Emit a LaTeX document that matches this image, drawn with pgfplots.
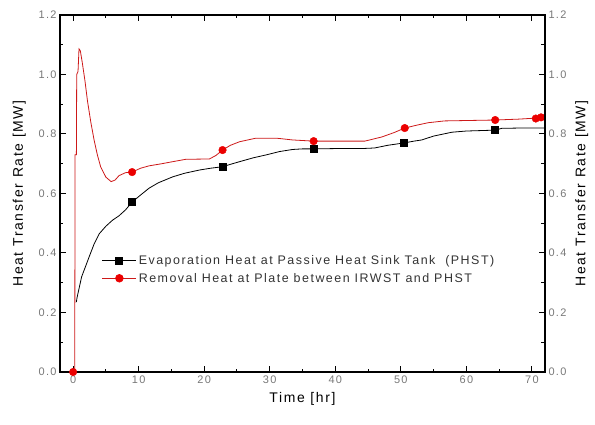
\documentclass[border=0pt]{standalone}
\usepackage{fontspec}
\setmainfont{Liberation Sans}[LetterSpace=12]
\usepackage{pgfplots}
\pgfplotsset{compat=1.18}

\definecolor{redline}{RGB}{205,25,25}
\definecolor{redmark}{RGB}{235,0,0}
\definecolor{ticklab}{RGB}{120,120,120}

\pgfplotsset{
  common/.style={
    scale only axis,
    width=485bp, height=357bp,
    at={(0,0)}, anchor=south west,
    xmin=-2, xmax=72, ymin=0, ymax=1.2,
    xtick={0,10,...,70}, ytick={0,0.2,...,1.2},
    minor x tick num=1, minor y tick num=1,
    tick align=inside,
    major tick length=6bp, minor tick length=3.5bp,
    axis line style={line width=1.2bp},
    every tick/.style={black, line width=1bp},
    tick label style={font=\fontsize{11}{12}\selectfont, text=ticklab},
    /pgf/number format/assume math mode=true,
    yticklabel style={/pgf/number format/fixed, /pgf/number format/fixed zerofill, /pgf/number format/precision=1},
    label style={font=\fontsize{14}{15}\selectfont},
  },
}

\begin{document}
\begin{tikzpicture}
\begin{axis}[
  common,
  ylabel={Heat Transfer Rate [MW]},
  xlabel={Time [hr]},
  xlabel style={yshift=-2bp},
  ylabel style={yshift=6bp},
  legend style={draw=none, fill=none, at={(0.08,0.338)}, anchor=north west,
    font=\fontsize{12.5}{13}\selectfont, text=black!80, row sep=3bp,
    legend cell align=left},
  legend image code/.code={
    \draw[#1, mark repeat=2, mark phase=2] plot coordinates {(0bp,0bp) (17bp,0bp) (34bp,0bp)};
  },
]
% Evaporation heat (black)
\addplot[black, line width=0.8bp, forget plot] coordinates {
(0.5,0.235)(0.6,0.25)(0.9,0.28)(1.3,0.32)(1.9,0.355)(2.5,0.39)(3.2,0.43)(4,0.465)
(5,0.49)(6,0.51)(7,0.525)(8,0.545)(9,0.571)(10.3,0.595)(11.6,0.618)(13,0.636)
(15.2,0.656)(17,0.668)(19.3,0.679)(21,0.685)(22.8,0.69)(24,0.698)(25.4,0.707)
(27.5,0.72)(29.5,0.73)(31.5,0.741)(33.5,0.748)(35,0.75)(36.7,0.75)(40,0.751)
(44,0.751)(46,0.753)(48,0.762)(50.5,0.77)(52,0.776)(53.2,0.78)(55,0.793)
(57.8,0.806)(60,0.81)(64.4,0.813)(65.4,0.819)(68,0.82)(72,0.82)
};
% Removal heat (red)
\addplot[redline, line width=0.8bp, forget plot] coordinates {
(0,0)(0.25,0)(0.3,0.73)(0.5,0.73)(0.55,1.0)(0.75,1.01)(0.9,1.086)(1.1,1.08)
(1.4,1.04)(1.8,0.98)(2.2,0.91)(2.7,0.84)(3.2,0.78)(3.7,0.73)(4.2,0.69)(5,0.655)
(5.8,0.64)(6.4,0.645)(7,0.66)(8,0.67)(9,0.672)(10.3,0.685)(11.6,0.693)(13.5,0.7)
(15.2,0.707)(17.2,0.715)(20.8,0.716)(21.8,0.728)(22.8,0.746)(24,0.762)(25.4,0.774)
(27.9,0.786)(31,0.786)(33.5,0.78)(36.7,0.776)(44.5,0.776)(47.1,0.79)(49,0.805)
(50.6,0.82)(52.5,0.83)(54.2,0.838)(56.7,0.844)(64.4,0.847)(68,0.85)(71,0.854)(72,0.855)
};
% markers
\addplot[only marks, mark=square*, mark size=3.5bp, black, forget plot] coordinates {
(9,0.571)(22.8,0.69)(36.7,0.75)(50.5,0.77)(64.4,0.813)
};
\addplot[only marks, mark=*, mark size=3.8bp, redmark, forget plot] coordinates {
(0,0)(9,0.672)(22.8,0.746)(36.7,0.776)(50.6,0.82)(64.4,0.847)(70.6,0.852)(71.4,0.856)
};
\addlegendimage{black, line width=0.8bp, mark=square*, mark size=3.5bp}
\addlegendentry{Evaporation Heat at Passive Heat Sink Tank~~(PHST)}
\addlegendimage{redline, line width=0.8bp, mark=*, mark size=3.8bp, mark options={redmark}}
\addlegendentry{Removal Heat at Plate between IRWST and PHST}
\end{axis}
\begin{axis}[
  common,
  axis x line=none,
  axis y line*=right,
  ylabel={Heat Transfer Rate [MW]},
  ylabel style={yshift=-2bp},
]
\end{axis}
\path (-60bp,-53bp) rectangle (535bp,372bp);
\end{tikzpicture}
\end{document}
